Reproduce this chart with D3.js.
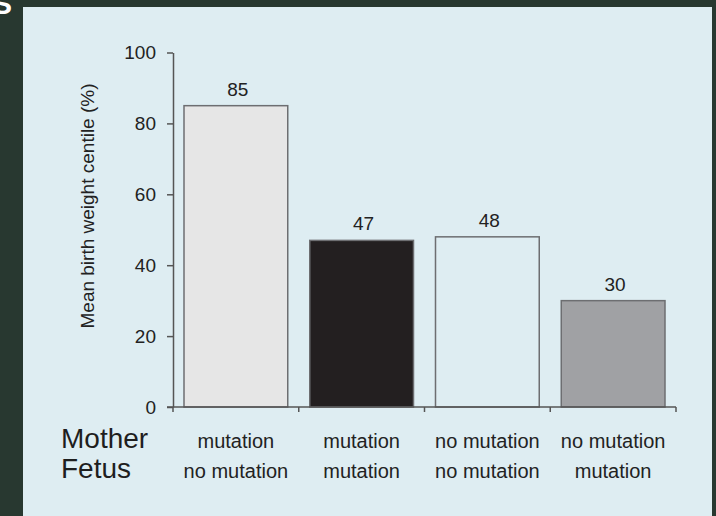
<!DOCTYPE html>
<html>
<head>
<meta charset="utf-8">
<script src="https://cdn.jsdelivr.net/npm/d3@7"></script>
<style>
    body { margin: 0; background: #283830; overflow: hidden; }
    #chart-area { width: 716px; height: 516px; }
</style>
</head>
<body>
<div id="chart-area"></div>
<script>

// chart data
let categories = ["mm-fn", "mm-fm", "mn-fn", "mn-fm"];
let values = [85, 47, 48, 30];
let motherLabels = ["mutation", "mutation", "no mutation", "no mutation"];
let fetusLabels = ["no mutation", "mutation", "no mutation", "mutation"];
let yTicks = [0, 20, 40, 60, 80, 100];
let barColors = ["#e6e6e6", "#231f20", "#deedf2", "#a0a1a4"];

class BirthWeightChart {

    constructor(parentElement) {
        this.parentElement = parentElement;
        this.initVis();
    }

    initVis() {
        let vis = this;

        vis.margin = {top: 52.5, right: 40, bottom: 109, left: 173};
        vis.width = 716 - vis.margin.left - vis.margin.right;
        vis.height = 516 - vis.margin.top - vis.margin.bottom;

        vis.root = d3.select("#" + vis.parentElement).append("svg")
            .attr("width", 716)
            .attr("height", 516);

        // light panel
        vis.root.append("rect")
            .attr("x", 23)
            .attr("y", 7)
            .attr("width", 689)
            .attr("height", 520)
            .attr("fill", "#deedf2");

        // clipped letter from the slide title
        vis.root.append("text")
            .attr("x", -8)
            .attr("y", 14)
            .text("S")
            .style("font-family", "Liberation Sans")
            .style("font-weight", "bold")
            .style("font-size", "30px")
            .style("fill", "white");

        vis.svg = vis.root.append("g")
            .attr("transform", "translate(" + vis.margin.left + "," + vis.margin.top + ")");

        vis.x = d3.scaleBand()
            .domain(categories)
            .range([0, vis.width])
            .paddingInner(0.175)
            .paddingOuter(0.0875);

        vis.y = d3.scaleLinear()
            .domain([0, 100])
            .range([vis.height, 0]);

        // bars
        vis.svg.selectAll(".bar")
            .data(values)
            .enter()
            .append("rect")
            .attr("class", "bar")
            .attr("x", (d, i) => vis.x(categories[i]))
            .attr("y", d => vis.y(d))
            .attr("width", vis.x.bandwidth())
            .attr("height", d => vis.height - vis.y(d))
            .style("fill", (d, i) => barColors[i])
            .style("stroke", "#6d6e71")
            .style("stroke-width", 1.5);

        // value labels
        vis.svg.selectAll(".bar-label")
            .data(values)
            .enter()
            .append("text")
            .attr("class", "bar-label")
            .attr("x", (d, i) => vis.x(categories[i]) + vis.x.bandwidth() / 2 + 2)
            .attr("y", d => vis.y(d) - 10)
            .attr("text-anchor", "middle")
            .text(d => d)
            .style("font-family", "Liberation Sans")
            .style("font-size", "19px")
            .style("fill", "#222");

        // y axis
        vis.yAxis = d3.axisLeft(vis.y)
            .tickValues(yTicks)
            .tickSize(6)
            .tickSizeOuter(0)
            .tickPadding(11);

        vis.svg.append("g")
            .attr("class", "y-axis")
            .call(vis.yAxis)
            .call(g => g.selectAll("path, line").attr("stroke", "#555").attr("stroke-width", 1.5))
            .call(g => g.selectAll("text")
                .style("font-family", "Liberation Sans")
                .style("font-size", "19px")
                .style("fill", "#222"));

        // x axis with ticks at band boundaries
        let boundaries = d3.range(categories.length + 1).map(i => i * vis.x.step());

        vis.svg.append("line")
            .attr("x1", -6)
            .attr("x2", vis.width)
            .attr("y1", vis.height)
            .attr("y2", vis.height)
            .attr("stroke", "#555")
            .attr("stroke-width", 1.5);

        vis.svg.selectAll(".x-tick")
            .data(boundaries)
            .enter()
            .append("line")
            .attr("class", "x-tick")
            .attr("x1", d => d)
            .attr("x2", d => d)
            .attr("y1", vis.height)
            .attr("y2", vis.height + 5)
            .attr("stroke", "#555")
            .attr("stroke-width", 1.5);

        // category labels (two rows)
        let rows = [motherLabels, fetusLabels];
        rows.forEach(function(labels, r) {
            vis.svg.selectAll(".cat-label-" + r)
                .data(labels)
                .enter()
                .append("text")
                .attr("class", "cat-label-" + r)
                .attr("x", (d, i) => vis.x(categories[i]) + vis.x.bandwidth() / 2)
                .attr("y", vis.height + 41 + r * 30)
                .attr("text-anchor", "middle")
                .text(d => d)
                .style("font-family", "Liberation Sans")
                .style("font-size", "20px")
                .style("fill", "#222");
        });

        // row headers
        vis.svg.append("text")
            .attr("x", 61 - vis.margin.left)
            .attr("y", vis.height + 41)
            .text("Mother")
            .style("font-family", "Liberation Sans")
            .style("font-size", "28px")
            .style("fill", "#1e1e1e");

        vis.svg.append("text")
            .attr("x", 61 - vis.margin.left)
            .attr("y", vis.height + 71)
            .text("Fetus")
            .style("font-family", "Liberation Sans")
            .style("font-size", "28px")
            .style("fill", "#1e1e1e");

        // y axis title
        vis.svg.append("text")
            .attr("transform", "translate(" + (94 - vis.margin.left) + "," + (206 - vis.margin.top) + ") rotate(-90)")
            .attr("text-anchor", "middle")
            .text("Mean birth weight centile (%)")
            .style("font-family", "Liberation Sans")
            .style("font-size", "19px")
            .style("fill", "#222");
    }
}

let chart = new BirthWeightChart("chart-area");
</script>
</body>
</html>
